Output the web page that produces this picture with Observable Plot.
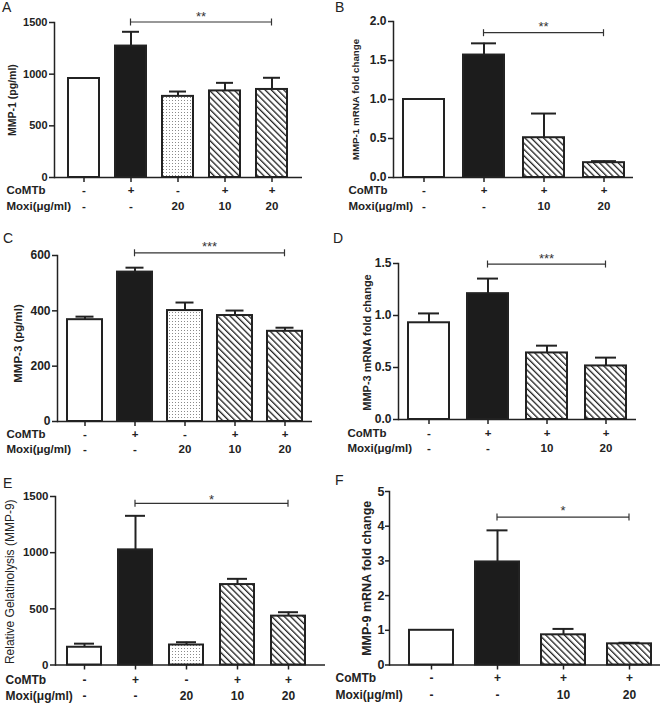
<!DOCTYPE html>
<html><head><meta charset="utf-8">
<script src="https://cdn.jsdelivr.net/npm/d3@7"></script>
<script src="https://cdn.jsdelivr.net/npm/@observablehq/plot@0.6"></script>
<style>
body{margin:0;background:#fff;}
#fig{position:relative;width:666px;height:709px;overflow:hidden;font-family:"Liberation Sans",Arial,sans-serif;}
.panel{position:absolute;}
.letter{position:absolute;font-size:14px;line-height:14px;color:#222;font-family:"Liberation Sans",Arial,sans-serif;}
</style></head><body>
<svg width="0" height="0" style="position:absolute;left:0;top:0">
  <defs>
    <pattern id="hatch" patternUnits="userSpaceOnUse" width="4.4" height="4.4" patternTransform="rotate(-45)">
      <rect width="4.4" height="4.4" fill="#fff"/>
      <rect x="0" y="0" width="1.3" height="4.4" fill="#222"/>
    </pattern>
    <pattern id="dots" patternUnits="userSpaceOnUse" width="3" height="3">
      <rect width="3" height="3" fill="#fff"/>
      <rect x="1" y="1" width="1" height="1" fill="#8a8a8a"/>
    </pattern>
  </defs>
</svg>
<div id="fig"></div>
<script>
// ---------------- DATA ----------------
const groups5 = ["1","2","3","4","5"];
const groups4 = ["1","2","3","4"];
const comtb5 = ["-","+","-","+","+"];
const moxi5 = ["-","-","20","10","20"];
const kinds5 = ["open","solid","dots","hatch","hatch"];
const comtb4 = ["-","+","+","+"];
const moxi4 = ["-","-","10","20"];
const kinds4 = ["open","solid","hatch","hatch"];

// A: MMP-1 protein
const meanA = [958, 1272, 785, 838, 852];
const errA  = [null, 1410, 832, 916, 965];
const ticksA = [0, 500, 1000, 1500];
const labelA = "MMP-1 (pg/ml)";
const sigA = ["2", "5", 1500, "**"];

// B: MMP-1 mRNA
const meanB = [1.0, 1.57, 0.51, 0.19];
const errB  = [null, 1.72, 0.82, 0.21];
const ticksB = [0, 0.5, 1.0, 1.5, 2.0];
const labelB = "MMP-1 mRNA fold change";
const sigB = ["2", "4", 1.85, "**"];

// C: MMP-3 protein
const meanC = [368, 540, 401, 383, 326];
const errC  = [379, 556, 430, 401, 339];
const ticksC = [0, 200, 400, 600];
const labelC = "MMP-3 (pg/ml)";
const sigC = ["2", "5", 608, "***"];

// D: MMP-3 mRNA
const meanD = [0.93, 1.21, 0.64, 0.515];
const errD  = [1.02, 1.355, 0.71, 0.595];
const ticksD = [0, 0.5, 1.0, 1.5];
const labelD = "MMP-3 mRNA fold change";
const sigD = ["2", "4", 1.49, "***"];

// E: MMP-9 gelatinolysis
const meanE = [158, 1025, 178, 716, 435];
const errE  = [190, 1328, 203, 767, 470];
const ticksE = [0, 500, 1000, 1500];
const labelE = "Relative Gelatinolysis (MMP-9)";
const sigE = ["2", "5", 1435, "*"];

// F: MMP-9 mRNA
const meanF = [1.0, 2.97, 0.87, 0.61];
const errF  = [null, 3.88, 1.04, 0.64];
const ticksF = [0, 1, 2, 3, 4, 5];
const labelF = "MMP-9 mRNA fold change";
const sigF = ["2", "4", 4.25, "*"];

const rowNames = ["CoMTb", "Moxi(\u03BCg/ml)"];
const letters = ["A","B","C","D","E","F"];

// ---------------- STYLE ----------------
const FILLS = {open: "#fff", solid: "#1c1c1c", dots: "url(#dots)", hatch: "url(#hatch)"};
const INK = "#222";

function bracketMark(sig, starSize, starDy) {
  const [from, to, value, stars] = sig;
  return (index, scales) => {
    const x = scales.x, y = scales.y;
    const bw = x.bandwidth();
    const x1 = x(from) + bw / 2, x2 = x(to) + bw / 2, yy = y(value);
    const g = d3.create("svg:g").attr("stroke", "#333").attr("stroke-width", 1.2).attr("fill", "none");
    g.append("line").attr("x1", x1).attr("x2", x2).attr("y1", yy).attr("y2", yy);
    g.append("line").attr("x1", x1).attr("x2", x1).attr("y1", yy - 3.5).attr("y2", yy + 3.5);
    g.append("line").attr("x1", x2).attr("x2", x2).attr("y1", yy - 3.5).attr("y2", yy + 3.5);
    g.append("text").attr("x", (x1 + x2) / 2).attr("y", yy + starDy)
      .attr("text-anchor", "middle").attr("stroke", "none").attr("fill", "#333")
      .attr("font-size", starSize).attr("font-weight", "normal").text(stars);
    return g.node();
  };
}

function makePanel(cfg, d) {
  const rows = d.groups.map((g, i) => ({g, comtb: d.comtb[i], moxi: d.moxi[i], kind: d.kinds[i], mean: d.mean[i], err: d.err[i]}));
  const withErr = rows.filter(r => r.err != null);
  return Plot.plot({
    width: cfg.w, height: cfg.h,
    marginLeft: cfg.ml, marginRight: cfg.mr, marginTop: cfg.mt, marginBottom: cfg.mb,
    style: {fontFamily: '"Liberation Sans", Arial, sans-serif', fontWeight: "bold", color: INK, background: "transparent", overflow: "visible"},
    x: {type: "band", domain: d.groups, paddingInner: cfg.pi, paddingOuter: cfg.po, align: cfg.align},
    y: {domain: [0, d.ticks[d.ticks.length - 1]]},
    color: {type: "identity"},
    marks: [
      Plot.ruleX(withErr, {x: "g", y1: "mean", y2: "err", stroke: INK, strokeWidth: 2}),
      Plot.tickY(withErr, {x: "g", y: "err", stroke: INK, strokeWidth: 2, insetLeft: cfg.cap, insetRight: cfg.cap}),
      Plot.barY(rows, {x: "g", y: "mean", fill: r => FILLS[r.kind], stroke: INK, strokeWidth: 2}),
      Plot.frame({anchor: "left", stroke: INK, strokeWidth: 1.5}),
      Plot.ruleY([0], {stroke: INK, strokeWidth: 1.5}),
      Plot.axisY({ticks: d.ticks, tickSize: cfg.ts, tickPadding: cfg.tp, tickFormat: d.fmt, label: null, fontSize: cfg.tickFs, fontWeight: "bold", strokeWidth: 1.5, stroke: INK}),
      Plot.axisX({tickSize: 5, tickFormat: () => "", label: null, strokeWidth: 1.5, stroke: INK}),
      Plot.text([d.label], {frameAnchor: "left", textAnchor: "middle", lineAnchor: "middle", rotate: -90, dx: cfg.labDx, dy: cfg.labDy, fontSize: cfg.labFs, fontWeight: cfg.labW, fill: INK}),
      Plot.text([rowNames[0]], {frameAnchor: "bottom-left", textAnchor: "start", dx: cfg.rowX - cfg.ml, dy: cfg.rowDy[0], fontSize: cfg.tabFs, fill: INK}),
      Plot.text([rowNames[1]], {frameAnchor: "bottom-left", textAnchor: "start", dx: cfg.rowX - cfg.ml, dy: cfg.rowDy[1], fontSize: cfg.tabFs, fill: INK}),
      Plot.text(rows, {x: "g", text: "comtb", frameAnchor: "bottom", dy: cfg.rowDy[0], fontSize: cfg.tabFs, fill: INK}),
      Plot.text(rows, {x: "g", text: "moxi", frameAnchor: "bottom", dy: cfg.rowDy[1], fontSize: cfg.tabFs, fill: INK}),
      bracketMark(d.sig, cfg.starFs, cfg.starDy)
    ]
  });
}

const f1 = d3.format(".1f");
const ident = v => String(v);
const panelData = [
  {groups: groups5, comtb: comtb5, moxi: moxi5, kinds: kinds5, mean: meanA, err: errA, ticks: ticksA, label: labelA, sig: sigA, fmt: ident},
  {groups: groups4, comtb: comtb4, moxi: moxi4, kinds: kinds4, mean: meanB, err: errB, ticks: ticksB, label: labelB, sig: sigB, fmt: f1},
  {groups: groups5, comtb: comtb5, moxi: moxi5, kinds: kinds5, mean: meanC, err: errC, ticks: ticksC, label: labelC, sig: sigC, fmt: ident},
  {groups: groups4, comtb: comtb4, moxi: moxi4, kinds: kinds4, mean: meanD, err: errD, ticks: ticksD, label: labelD, sig: sigD, fmt: f1},
  {groups: groups5, comtb: comtb5, moxi: moxi5, kinds: kinds5, mean: meanE, err: errE, ticks: ticksE, label: labelE, sig: sigE, fmt: ident},
  {groups: groups4, comtb: comtb4, moxi: moxi4, kinds: kinds4, mean: meanF, err: errF, ticks: ticksF, label: labelF, sig: sigF, fmt: ident}
];
const layouts = [
  {left: 0,   top: 0,   w: 312, h: 216, ml: 54, mr: 10, mt: 22, mb: 39,   pi: .33,  po: .26, align: .5,  cap: 7,    ts: 5, tp: 2, tickFs: 11,   tabFs: 11.5, labFs: 10.5, labW: "bold",   labDx: -42,   labDy: 0, rowX: 6,  rowDy: [16, 32],     starFs: 13, starDy: -1.5, letter: [2, 0]},
  {left: 330, top: 0,   w: 336, h: 216, ml: 63, mr: 33, mt: 21, mb: 39,   pi: .325, po: .15, align: .5,  cap: 8,    ts: 5, tp: 2, tickFs: 12,   tabFs: 11.5, labFs: 9.8,  labW: "bold",   labDx: -38,   labDy: 0, rowX: 18, rowDy: [16.3, 32.3], starFs: 13, starDy: -1.5, letter: [5, 0]},
  {left: 0,   top: 230, w: 322, h: 232, ml: 57, mr: 10, mt: 25, mb: 41,   pi: .31,  po: .17, align: .5,  cap: 8.5,  ts: 5, tp: 2, tickFs: 12,   tabFs: 11.5, labFs: 11.5, labW: "bold",   labDx: -39,   labDy: 5, rowX: 6,  rowDy: [16, 31.3],   starFs: 13, starDy: -1.5, letter: [3, 1]},
  {left: 330, top: 230, w: 336, h: 232, ml: 68, mr: 30, mt: 33, mb: 43,   pi: .31,  po: .17, align: .5,  cap: 10,   ts: 5, tp: 2, tickFs: 12,   tabFs: 11.5, labFs: 11,   labW: "bold",   labDx: -31,   labDy: 1, rowX: 17, rowDy: [17.4, 32.4], starFs: 13, starDy: -1.5, letter: [3, 1]},
  {left: 0,   top: 470, w: 330, h: 239, ml: 55, mr: 5,  mt: 26, mb: 44.5, pi: .33,  po: .27, align: .39, cap: 7,    ts: 5, tp: 2, tickFs: 11.5, tabFs: 12,   labFs: 12,   labW: "normal", labDx: -45,   labDy: 1, rowX: 5,  rowDy: [18.8, 34.8], starFs: 13, starDy: 1,    letter: [3, 6]},
  {left: 330, top: 470, w: 336, h: 239, ml: 59, mr: 6,  mt: 21, mb: 44.5, pi: .33,  po: .19, align: .69, cap: 11.5, ts: 4, tp: 1, tickFs: 12.5, tabFs: 12,   labFs: 12.5, labW: "bold",   labDx: -22.5, labDy: 0, rowX: 5,  rowDy: [17.2, 33.8], starFs: 13, starDy: -2,   letter: [5, 3]}
];

const fig = document.getElementById("fig");
layouts.forEach((cfg, i) => {
  const div = document.createElement("div");
  div.className = "panel";
  div.style.left = cfg.left + "px";
  div.style.top = cfg.top + "px";
  div.appendChild(makePanel(cfg, panelData[i]));
  fig.appendChild(div);
  const L = document.createElement("div");
  L.className = "letter";
  L.style.left = (cfg.left + cfg.letter[0]) + "px";
  L.style.top = (cfg.top + cfg.letter[1]) + "px";
  L.textContent = letters[i];
  fig.appendChild(L);
});
</script>
</body></html>
